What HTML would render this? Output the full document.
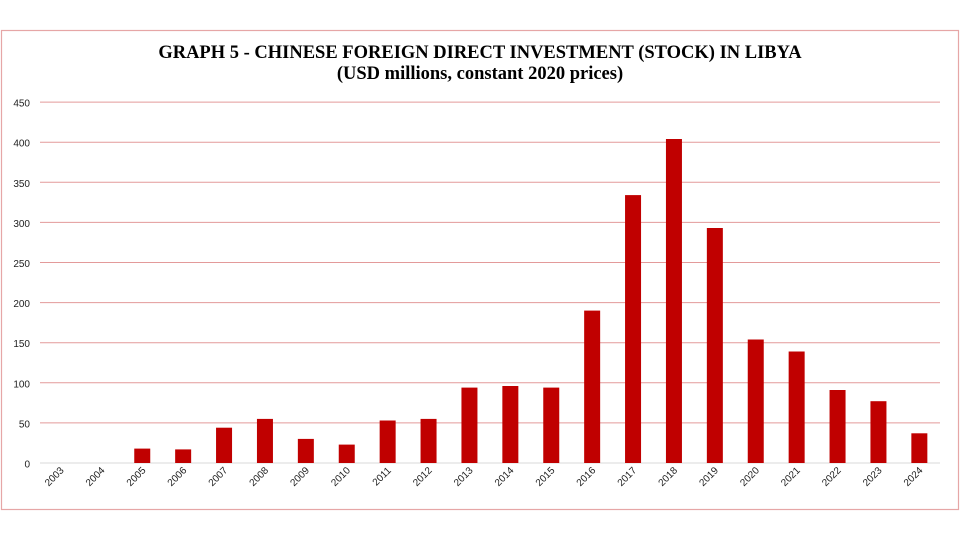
<!DOCTYPE html>
<html><head><meta charset="utf-8"><style>
body{margin:0;background:#fff;}
svg{display:block;}
</style></head><body>
<svg width="960" height="540" viewBox="0 0 960 540" xmlns="http://www.w3.org/2000/svg">
<rect x="1.5" y="30.5" width="957" height="479" fill="#fff" stroke="#e6a6a6" stroke-width="1.2"/>
<text x="480" y="58" text-anchor="middle" font-family="Liberation Serif, serif" font-weight="bold" font-size="18.5">GRAPH 5 - CHINESE FOREIGN DIRECT INVESTMENT (STOCK) IN LIBYA</text>
<text x="480" y="79" text-anchor="middle" font-family="Liberation Serif, serif" font-weight="bold" font-size="18.5">(USD millions, constant 2020 prices)</text>
<g stroke="#e39a9a" stroke-width="1">
<line x1="40" x2="940" y1="102.1" y2="102.1"/><line x1="40" x2="940" y1="142.2" y2="142.2"/>
<line x1="40" x2="940" y1="182.3" y2="182.3"/><line x1="40" x2="940" y1="222.4" y2="222.4"/>
<line x1="40" x2="940" y1="262.5" y2="262.5"/><line x1="40" x2="940" y1="302.6" y2="302.6"/>
<line x1="40" x2="940" y1="342.7" y2="342.7"/><line x1="40" x2="940" y1="382.8" y2="382.8"/>
<line x1="40" x2="940" y1="422.9" y2="422.9"/>
</g>
<line x1="40" x2="940" y1="463" y2="463" stroke="#d9d9d9" stroke-width="1"/>
<g font-family="Liberation Sans, sans-serif" font-size="10" fill="#222" text-anchor="end">
<text x="30" y="106.6">450</text><text x="30" y="146.7">400</text><text x="30" y="186.8">350</text>
<text x="30" y="226.9">300</text><text x="30" y="267">250</text><text x="30" y="307.1">200</text>
<text x="30" y="347.2">150</text><text x="30" y="387.3">100</text><text x="30" y="427.4">50</text>
<text x="30" y="467.5">0</text>
</g>
<g fill="#c00000">
<rect x="134.25" y="448.6" width="16" height="14.4"/>
<rect x="175.15" y="449.4" width="16" height="13.6"/>
<rect x="216.05" y="427.7" width="16" height="35.3"/>
<rect x="256.95" y="418.9" width="16" height="44.1"/>
<rect x="297.85" y="438.9" width="16" height="24.1"/>
<rect x="338.75" y="444.6" width="16" height="18.4"/>
<rect x="379.65" y="420.5" width="16" height="42.5"/>
<rect x="420.55" y="418.9" width="16" height="44.1"/>
<rect x="461.45" y="387.6" width="16" height="75.4"/>
<rect x="502.35" y="386" width="16" height="77"/>
<rect x="543.25" y="387.6" width="16" height="75.4"/>
<rect x="584.15" y="310.6" width="16" height="152.4"/>
<rect x="625.05" y="195.1" width="16" height="267.9"/>
<rect x="665.95" y="139" width="16" height="324"/>
<rect x="706.85" y="228" width="16" height="235"/>
<rect x="747.75" y="339.5" width="16" height="123.5"/>
<rect x="788.65" y="351.5" width="16" height="111.5"/>
<rect x="829.55" y="390" width="16" height="73"/>
<rect x="870.45" y="401.2" width="16" height="61.8"/>
<rect x="911.35" y="433.3" width="16" height="29.7"/>
</g>
<g font-family="Liberation Sans, sans-serif" font-size="10" fill="#222" text-anchor="end">
<text transform="translate(64.45,471) rotate(-45)">2003</text>
<text transform="translate(105.35,471) rotate(-45)">2004</text>
<text transform="translate(146.25,471) rotate(-45)">2005</text>
<text transform="translate(187.15,471) rotate(-45)">2006</text>
<text transform="translate(228.05,471) rotate(-45)">2007</text>
<text transform="translate(268.95,471) rotate(-45)">2008</text>
<text transform="translate(309.85,471) rotate(-45)">2009</text>
<text transform="translate(350.75,471) rotate(-45)">2010</text>
<text transform="translate(391.65,471) rotate(-45)">2011</text>
<text transform="translate(432.55,471) rotate(-45)">2012</text>
<text transform="translate(473.45,471) rotate(-45)">2013</text>
<text transform="translate(514.35,471) rotate(-45)">2014</text>
<text transform="translate(555.25,471) rotate(-45)">2015</text>
<text transform="translate(596.15,471) rotate(-45)">2016</text>
<text transform="translate(637.05,471) rotate(-45)">2017</text>
<text transform="translate(677.95,471) rotate(-45)">2018</text>
<text transform="translate(718.85,471) rotate(-45)">2019</text>
<text transform="translate(759.75,471) rotate(-45)">2020</text>
<text transform="translate(800.65,471) rotate(-45)">2021</text>
<text transform="translate(841.55,471) rotate(-45)">2022</text>
<text transform="translate(882.45,471) rotate(-45)">2023</text>
<text transform="translate(923.35,471) rotate(-45)">2024</text>
</g>
</svg>
</body></html>
